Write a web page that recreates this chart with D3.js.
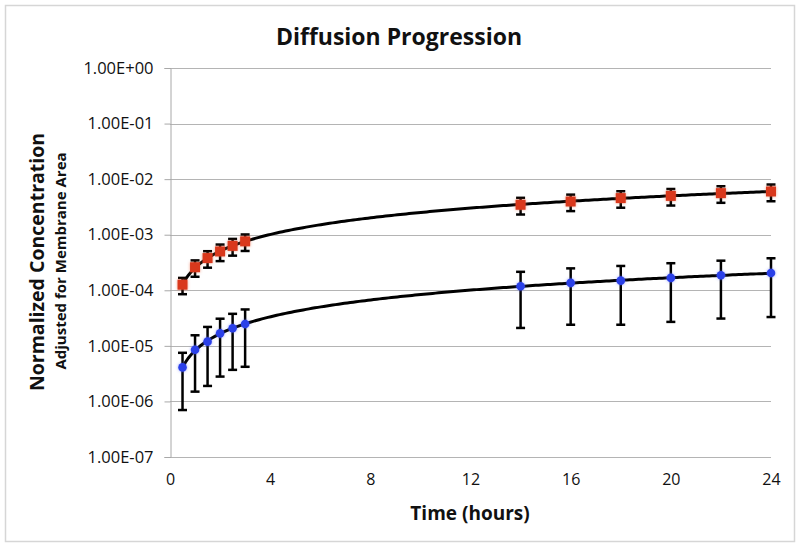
<!DOCTYPE html>
<html>
<head>
<meta charset="utf-8">
<script src="https://cdn.jsdelivr.net/npm/d3@7"></script>
<style>
  body { margin: 0; background: #fff; }
  text { font-family: "Open Sans", sans-serif; fill: #111; }
</style>
</head>
<body>
<svg id="chart"></svg>
<script>
// Chart data
const hours = [0.5, 1, 1.5, 2, 2.5, 3, 14, 16, 18, 20, 22, 24];
const redValues = [1.26e-4, 2.6e-4, 3.8e-4, 5.0e-4, 6.3e-4, 7.6e-4, 3.46e-3, 3.96e-3, 4.56e-3, 5.0e-3, 5.6e-3, 6.0e-3];
const redErrors = [0.41e-4, 0.85e-4, 1.25e-4, 1.65e-4, 2.1e-4, 2.5e-4, 1.15e-3, 1.3e-3, 1.5e-3, 1.65e-3, 1.85e-3, 2.0e-3];
const blueValues = [4.1e-6, 8.5e-6, 1.19e-5, 1.68e-5, 2.07e-5, 2.47e-5, 1.18e-4, 1.36e-4, 1.49e-4, 1.67e-4, 1.86e-4, 2.05e-4];
const blueErrors = [3.4e-6, 7.0e-6, 1.0e-5, 1.4e-5, 1.7e-5, 2.05e-5, 9.7e-5, 1.12e-4, 1.25e-4, 1.4e-4, 1.55e-4, 1.72e-4];
const xTicks = [0, 4, 8, 12, 16, 20, 24];
const yTicks = [1e-7, 1e-6, 1e-5, 1e-4, 1e-3, 1e-2, 1e-1, 1];

const width = 800;
const height = 547;
const margin = { top: 68, right: 29, bottom: 90, left: 170 };

const svg = d3.select("#chart")
    .attr("width", width)
    .attr("height", height);

// Outer chart frame
svg.append("rect")
    .attr("x", 5.5).attr("y", 5.5)
    .attr("width", 789).attr("height", 536)
    .attr("fill", "none")
    .attr("stroke", "#d6d6d6")
    .attr("stroke-width", 1.5);

// Glow filters for the markers
const defs = svg.append("defs");
function glow(id, color) {
    const f = defs.append("filter").attr("id", id)
        .attr("x", "-60%").attr("y", "-60%").attr("width", "220%").attr("height", "220%");
    f.append("feGaussianBlur").attr("in", "SourceGraphic").attr("stdDeviation", 1.6).attr("result", "b");
    f.append("feFlood").attr("flood-color", color).attr("flood-opacity", 0.6);
    f.append("feComposite").attr("in2", "b").attr("operator", "in").attr("result", "g");
    const m = f.append("feMerge");
    m.append("feMergeNode").attr("in", "g");
    m.append("feMergeNode").attr("in", "SourceGraphic");
}
glow("glowRed", "#e8603c");
glow("glowBlue", "#5a6cff");

const xScale = d3.scaleLinear()
    .domain([0, 24])
    .range([margin.left, width - margin.right]);

const yScale = d3.scaleLog()
    .domain([1e-7, 1])
    .range([height - margin.bottom, margin.top]);

const fmt = v => {
    const e = Math.round(Math.log10(v));
    return "1.00E" + (e < 0 ? "-" : "+") + String(Math.abs(e)).padStart(2, "0");
};

// Gridlines
svg.append("g")
    .selectAll("line")
    .data(yTicks)
    .enter()
    .append("line")
    .attr("x1", margin.left)
    .attr("x2", width - margin.right)
    .attr("y1", d => Math.round(yScale(d)) + 0.5)
    .attr("y2", d => Math.round(yScale(d)) + 0.5)
    .attr("stroke", "#b4b4b4");

// Y axis
const yAxis = d3.axisLeft(yScale)
    .tickValues(yTicks)
    .tickFormat(fmt)
    .tickSize(6)
    .tickPadding(11);
const gy = svg.append("g")
    .attr("id", "y-axis")
    .attr("transform", `translate(${margin.left + 0.5}, 0)`)
    .call(yAxis);
gy.select(".domain").attr("stroke", "#a8a8a8");
gy.selectAll(".tick line").attr("stroke", "#a8a8a8");
gy.selectAll(".tick text")
    .style("font-family", "'Open Sans', sans-serif")
    .style("font-size", "16.5px")
    .attr("fill", "#1a1a1a");

// X axis
const xAxis = d3.axisBottom(xScale)
    .tickValues(xTicks)
    .tickSize(0)
    .tickPadding(17);
const gx = svg.append("g")
    .attr("id", "x-axis")
    .attr("transform", `translate(0, ${height - margin.bottom})`)
    .call(xAxis);
gx.select(".domain").remove();
gx.selectAll(".tick text")
    .style("font-family", "'Open Sans', sans-serif")
    .style("font-size", "16px")
    .attr("fill", "#1a1a1a");

// Power trendlines (least squares in log-log space)
function powerFit(xs, ys) {
    const lx = xs.map(Math.log), ly = ys.map(Math.log);
    const mx = d3.mean(lx), my = d3.mean(ly);
    const b = d3.sum(lx, (v, i) => (v - mx) * (ly[i] - my)) / d3.sum(lx, v => (v - mx) * (v - mx));
    const a = Math.exp(my - b * mx);
    return t => a * Math.pow(t, b);
}
const curveT = d3.range(0, 201).map(i => 0.5 + i * (24 - 0.5) / 200);
const line = d3.line().x(d => xScale(d[0])).y(d => yScale(d[1]));

[redValues, blueValues].forEach(vals => {
    const f = powerFit(hours, vals);
    svg.append("path")
        .datum(curveT.map(t => [t, f(t)]))
        .attr("d", line)
        .attr("fill", "none")
        .attr("stroke", "#000")
        .attr("stroke-width", 3);
});

// Error bars
function errorBars(vals, errs) {
    const g = svg.append("g");
    const bars = g.selectAll("g")
        .data(hours.map((h, i) => ({ h, v: vals[i], e: errs[i] })))
        .enter()
        .append("g");
    bars.append("line")
        .attr("x1", d => xScale(d.h)).attr("x2", d => xScale(d.h))
        .attr("y1", d => yScale(d.v + d.e)).attr("y2", d => yScale(d.v - d.e))
        .attr("stroke", "#000").attr("stroke-width", 2.5);
    [1, -1].forEach(s => {
        bars.append("line")
            .attr("x1", d => xScale(d.h) - 4.5).attr("x2", d => xScale(d.h) + 4.5)
            .attr("y1", d => yScale(d.v + s * d.e)).attr("y2", d => yScale(d.v + s * d.e))
            .attr("stroke", "#000").attr("stroke-width", 2.5);
    });
}
errorBars(redValues, redErrors);
errorBars(blueValues, blueErrors);

// Markers
svg.append("g")
    .selectAll("rect")
    .data(hours.map((h, i) => [h, redValues[i]]))
    .enter()
    .append("rect")
    .attr("x", d => xScale(d[0]) - 5)
    .attr("y", d => yScale(d[1]) - 5)
    .attr("width", 10).attr("height", 10)
    .attr("fill", "#d9381e")
    .attr("filter", "url(#glowRed)");

svg.append("g")
    .selectAll("circle")
    .data(hours.map((h, i) => [h, blueValues[i]]))
    .enter()
    .append("circle")
    .attr("cx", d => xScale(d[0]))
    .attr("cy", d => yScale(d[1]))
    .attr("r", 4.3)
    .attr("fill", "#2b3fe8")
    .attr("filter", "url(#glowBlue)");

// Titles
svg.append("text")
    .attr("x", 399).attr("y", 45)
    .attr("text-anchor", "middle")
    .style("font-size", "23px").style("font-weight", "bold")
    .text("Diffusion Progression");

svg.append("text")
    .attr("x", 470).attr("y", 520)
    .attr("text-anchor", "middle")
    .style("font-size", "19px").style("font-weight", "bold")
    .text("Time (hours)");

svg.append("text")
    .attr("transform", "translate(44, 262) rotate(-90)")
    .attr("text-anchor", "middle")
    .style("font-size", "19.5px").style("font-weight", "bold")
    .text("Normalized Concentration");

svg.append("text")
    .attr("transform", "translate(66, 261) rotate(-90)")
    .attr("text-anchor", "middle")
    .style("font-size", "15px").style("font-weight", "bold")
    .text("Adjusted for Membrane Area");
</script>
</body>
</html>
